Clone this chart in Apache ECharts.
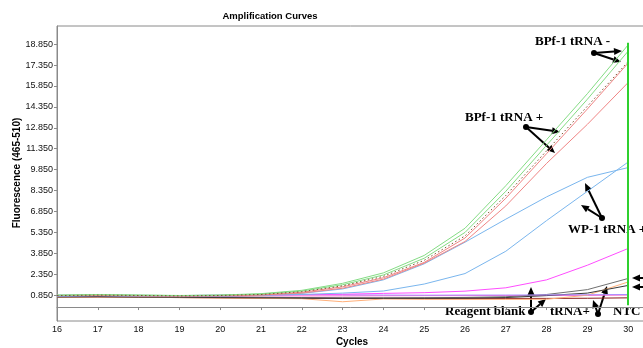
<!DOCTYPE html>
<html>
<head>
<meta charset="utf-8">
<script src="https://cdn.jsdelivr.net/npm/echarts@6/dist/echarts.min.js"></script>
<style>html,body{margin:0;padding:0;background:#fff}#c{width:643px;height:348px}</style>
</head>
<body>
<div id="c"></div>
<script>
const cycles = [16,17,18,19,20,21,22,23,24,25,26,27,28,29,30];
const yTickLabels = ['0.850','2.350','3.850','5.350','6.850','8.350','9.850','11.350','12.850','14.350','15.850','17.350','18.850'];

const bpfMinusA = [0.86,0.90,0.86,0.83,0.86,0.96,1.20,1.70,2.45,3.70,5.65,8.70,12.00,15.30,18.80];
const bpfMinusB = [0.84,0.88,0.85,0.82,0.85,0.93,1.15,1.60,2.30,3.50,5.35,8.30,11.60,14.90,18.35];
const bpfPlusA  = [0.82,0.86,0.83,0.80,0.83,0.90,1.10,1.52,2.20,3.35,5.10,8.00,11.20,14.40,17.60];
const bpfPlusB  = [0.83,0.85,0.82,0.80,0.82,0.88,1.06,1.45,2.10,3.20,4.95,7.80,11.00,14.20,17.50];
const bpfPlusC  = [0.82,0.84,0.80,0.79,0.81,0.86,1.00,1.35,2.00,3.15,4.70,7.25,10.30,13.10,16.10];
const wpPlusA   = [0.80,0.83,0.80,0.78,0.80,0.85,0.98,1.30,1.95,3.10,4.65,6.30,7.90,9.30,10.00];
const wpPlusB   = [0.80,0.82,0.80,0.79,0.81,0.84,0.90,1.00,1.15,1.65,2.40,4.00,6.20,8.30,10.40];
const magentaS  = [0.80,0.82,0.80,0.79,0.80,0.84,0.88,0.92,0.98,1.03,1.14,1.38,1.95,3.00,4.20];
const lavenderS = [0.85,0.86,0.84,0.82,0.86,0.90,0.90,0.88,0.86,0.85,0.86,0.86,0.87,0.88,0.90];
const ntcS      = [0.78,0.80,0.78,0.77,0.78,0.80,0.80,0.80,0.81,0.82,0.82,0.83,0.83,0.84,0.86];
const trnaPlusA = [0.76,0.78,0.75,0.74,0.72,0.70,0.68,0.66,0.66,0.67,0.69,0.74,0.90,1.25,2.05];
const trnaPlusB = [0.72,0.74,0.71,0.70,0.68,0.66,0.64,0.63,0.63,0.63,0.64,0.68,0.82,1.00,1.55];
const blankS    = [0.70,0.72,0.70,0.68,0.65,0.62,0.60,0.38,0.58,0.55,0.55,0.55,0.56,0.85,1.80];
const darkRedS  = [0.70,0.72,0.70,0.68,0.66,0.64,0.63,0.62,0.62,0.62,0.62,0.62,0.62,0.63,0.66];

const seriesDefs = [
  {name:'NTC', data: ntcS, color:'#ff66cc'},
  {name:'Dark', data: darkRedS, color:'#8b1a1a'},
  {name:'Reagent blank', data: blankS, color:'#ffb07a'},
  {name:'tRNA+ a', data: trnaPlusA, color:'#707070'},
  {name:'tRNA+ b', data: trnaPlusB, color:'#3a3a3a'},
  {name:'Lavender', data: lavenderS, color:'#a98bff'},
  {name:'Magenta', data: magentaS, color:'#ff4dff'},
  {name:'WP-1 tRNA + a', data: wpPlusA, color:'#7ab6ee'},
  {name:'WP-1 tRNA + b', data: wpPlusB, color:'#7ab6ee'},
  {name:'BPf-1 tRNA + c', data: bpfPlusC, color:'#f08585'},
  {name:'BPf-1 tRNA + b', data: bpfPlusB, color:'#f08585'},
  {name:'BPf-1 tRNA - a', data: bpfMinusA, color:'#84dc84'},
  {name:'BPf-1 tRNA - b', data: bpfMinusB, color:'#84dc84'},
  {name:'BPf-1 tRNA + a', data: bpfPlusA, color:'#7a5530', dash:[1.5,2.5]}
];

const series = seriesDefs.map(d => ({
  type:'line', name:d.name, showSymbol:false, symbol:'none',
  data: cycles.map((c,i)=>[c, d.data[i]]),
  lineStyle:{color:d.color, width:1, type: d.dash || 'solid'},
  itemStyle:{color:d.color},
  silent:true
}));
series[series.length-3].markLine = {
  silent:true, symbol:'none', label:{show:false},
  lineStyle:{color:'#2fd02f', width:2, type:'solid'},
  data:[[{coord:[30,18.95]},{coord:[30,0.13]}]]
};

function arrow(x1,y1,x2,y2){
  const a=Math.atan2(y2-y1,x2-x1), L=8, W=3.5;
  const bx=x2-L*Math.cos(a), by=y2-L*Math.sin(a);
  return [
    {type:'line', shape:{x1:x1,y1:y1,x2:bx,y2:by}, style:{stroke:'#000', lineWidth:2}},
    {type:'polygon', shape:{points:[[x2,y2],[bx-W*Math.sin(a),by+W*Math.cos(a)],[bx+W*Math.sin(a),by-W*Math.cos(a)]]}, style:{fill:'#000'}}
  ];
}
function dot(x,y){return {type:'circle', shape:{cx:x,cy:y,r:3}, style:{fill:'#000'}};}
function label(t,x,y){return {type:'text', style:{text:t, x:x, y:y, font:'bold 13px "Liberation Serif", "Times New Roman", serif', fill:'#000', verticalAlign:'middle', textVerticalAlign:'middle'}};}

const gfx = [
  {type:'text', style:{text:'Amplification Curves', x:270, y:16, font:'bold 9.5px "Liberation Sans", Arial, sans-serif', fill:'#000', align:'center', textAlign:'center', verticalAlign:'middle', textVerticalAlign:'middle'}},
  {type:'text', style:{text:'Cycles', x:352, y:342, font:'bold 10px "Liberation Sans", Arial, sans-serif', fill:'#000', align:'center', textAlign:'center', verticalAlign:'middle', textVerticalAlign:'middle'}},
  {type:'text', rotation:Math.PI/2, x:17, y:173, style:{text:'Fluorescence (465-510)', x:0, y:0, font:'bold 10px "Liberation Sans", Arial, sans-serif', fill:'#000', align:'center', textAlign:'center', verticalAlign:'middle', textVerticalAlign:'middle'}},
  label('BPf-1 tRNA -', 535, 42),
  dot(594,53), ...arrow(594,53,622,51), ...arrow(594,53,621,62),
  label('BPf-1 tRNA +', 465, 118),
  dot(526,127), ...arrow(526,127,560,132), ...arrow(526,127,555,153),
  label('WP-1 tRNA +', 568, 230),
  dot(602,218), ...arrow(602,218,585,183), ...arrow(602,218,581,205),
  label('Reagent blank', 445, 312),
  dot(531,312), ...arrow(531,312,531,287), ...arrow(531,312,546,299),
  label('tRNA+', 550, 312),
  dot(598,314), ...arrow(598,314,593,300), ...arrow(598,314,607,286),
  label('NTC', 613, 312),
  ...arrow(650,278,632,278), ...arrow(650,287,632,287)
];

const chart = echarts.init(document.getElementById('c'), null, {renderer:'canvas'});
chart.setOption({
  animation:false,
  backgroundColor:'#fff',
  grid:{left:57, top:26, bottom:27, right:-26, containLabel:false, outerBoundsMode:'none',
    show:true, borderColor:'#8a8a8a', borderWidth:1, backgroundColor:'transparent'},
  xAxis:{type:'value', min:16, max:31, interval:1,
    axisLine:{show:true, lineStyle:{color:'#8a8a8a', width:1}},
    axisTick:{show:true, length:3, lineStyle:{color:'#8a8a8a'}},
    axisLabel:{color:'#111', fontSize:9, fontFamily:'"Liberation Sans", Arial, sans-serif', margin:4},
    splitLine:{show:false}},
  yAxis:{type:'value', min:-1.0, max:20.15,
    axisLine:{show:true, lineStyle:{color:'#8a8a8a', width:1}},
    axisTick:{show:true, length:3, lineStyle:{color:'#8a8a8a'}, customValues: yTickLabels.map(Number)},
    axisLabel:{color:'#111', fontSize:9, fontFamily:'"Liberation Sans", Arial, sans-serif', margin:4,
      customValues: yTickLabels.map(Number), formatter: v => v.toFixed(3)},
    splitLine:{show:false}},
  series: series,
  graphic: gfx
});
</script>
</body>
</html>
